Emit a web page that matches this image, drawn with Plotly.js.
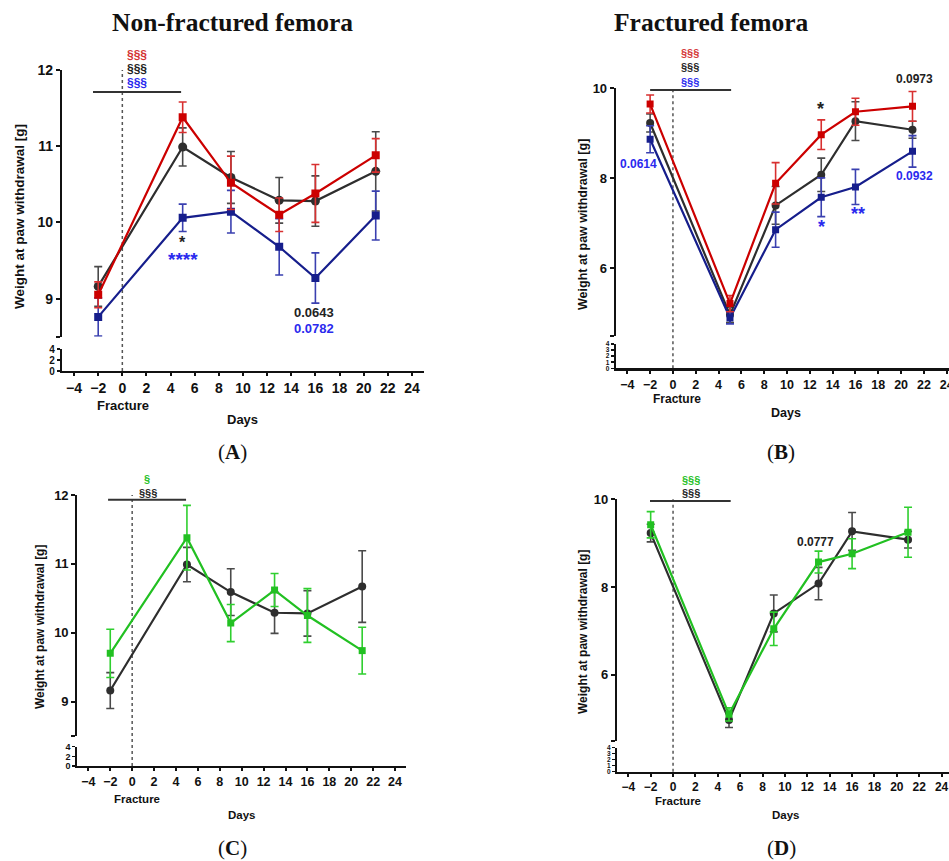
<!DOCTYPE html>
<html>
<head>
<meta charset="utf-8">
<script src="https://cdn.plot.ly/plotly-3.0.1.min.js"></script>
<style>html,body{margin:0;padding:0;background:#fff;}#chart{width:949px;height:861px;}</style>
</head>
<body>
<div id="chart"></div>
<script>
// ---------- DATA ----------
const days = [-2, 5, 9, 13, 16, 21];
const xTickVals = [-4, -2, 0, 2, 4, 6, 8, 10, 12, 14, 16, 18, 20, 22, 24];

// Non-fractured femora
const nfBlack    = [9.16, 10.99, 10.59, 10.29, 10.28, 10.67];
const nfBlackErr = [0.26, 0.25, 0.34, 0.30, 0.33, 0.52];
const nfRed      = [9.05, 11.38, 10.52, 10.10, 10.38, 10.88];
const nfRedErr   = [0.17, 0.20, 0.35, 0.22, 0.38, 0.22];
const nfBlue     = [8.76, 10.06, 10.14, 9.68, 9.27, 10.09];
const nfBlueErr  = [0.25, 0.18, 0.28, 0.37, 0.33, 0.32];
const nfGreen    = [9.70, 11.38, 10.14, 10.62, 10.25, 9.74];
const nfGreenErr = [0.35, 0.47, 0.27, 0.24, 0.39, 0.34];

// Fractured femora
const frBlack    = [9.23, 4.97, 7.40, 8.08, 9.27, 9.08];
const frBlackErr = [0.20, 0.17, 0.42, 0.37, 0.43, 0.19];
const frRed      = [9.65, 5.22, 7.89, 8.97, 9.48, 9.60];
const frRedErr   = [0.20, 0.18, 0.46, 0.33, 0.30, 0.33];
const frBlue     = [8.87, 4.90, 6.86, 7.58, 7.81, 8.60];
const frBlueErr  = [0.30, 0.13, 0.39, 0.43, 0.39, 0.35];
const frGreen    = [9.42, 5.10, 7.05, 8.57, 8.76, 9.25];
const frGreenErr = [0.30, 0.15, 0.38, 0.25, 0.34, 0.57];

// ---------- STYLE ----------
const W = 949, H = 861;
const PX = v => v / W;
const PY = v => 1 - v / H;
const C = {
  black: '#2e2e2e', blackErr: '#4a4a4a',
  red: '#cc0000', redErr: '#d83030',
  blue: '#161e8c', blueErr: '#3a40b0',
  green: '#22c022', greenErr: '#2fcf2f',
  txtRed: '#d43535', txtBlue: '#2a2aee', txtBlack: '#222222', txtGreen: '#25c025'
};
const SANS = 'Liberation Sans, Arial, sans-serif';
const SERIF = 'Liberation Serif, Times New Roman, serif';

// panel geometry in pixels
const panels = [
  {id: 'A', xl: 62,    xr: 424, xRange: [-5, 25],    axisY: 371,   low4: 349,   upTop: 70,   upBot: 336.7, upRange: [8.5, 12], upTicks: [8.5, 9, 10, 11, 12], lowTicks: [0, 2, 4], tickSize: 14, xTickSize: 14, lowSize: 10},
  {id: 'B', xl: 615.9, xr: 949, xRange: [-5, 24.2],  axisY: 368.3, low4: 344,   upTop: 88.3, upBot: 336,   upRange: [4.5, 10], upTicks: [4.5, 6, 8, 10],       lowTicks: [0, 1, 2, 3, 4], tickSize: 13, xTickSize: 12.5, lowSize: 6.5},
  {id: 'C', xl: 77.4,  xr: 406, xRange: [-5, 25],    axisY: 766,   low4: 746.7, upTop: 495,  upBot: 736,   upRange: [8.5, 12], upTicks: [8.5, 9, 10, 11, 12], lowTicks: [0, 2, 4], tickSize: 13, xTickSize: 12.5, lowSize: 9},
  {id: 'D', xl: 617.1, xr: 949, xRange: [-5, 24.66], axisY: 771.7, low4: 747.7, upTop: 499.3, upBot: 740.7, upRange: [4.5, 10], upTicks: [4.5, 6, 8, 10],     lowTicks: [0, 1, 2, 3, 4], tickSize: 13, xTickSize: 12, lowSize: 6.5}
];

const layout = {
  width: W, height: H,
  margin: {l: 0, r: 0, t: 0, b: 0},
  paper_bgcolor: '#fff', plot_bgcolor: 'rgba(0,0,0,0)',
  showlegend: false,
  shapes: [], annotations: []
};
const traces = [];

panels.forEach((p, i) => {
  const xn = i === 0 ? 'xaxis' : 'xaxis' + (i + 1);
  const xid = i === 0 ? 'x' : 'x' + (i + 1);
  const upN = 2 * i + 1, lowN = 2 * i + 2;
  const upName = upN === 1 ? 'yaxis' : 'yaxis' + upN;
  const upId = upN === 1 ? 'y' : 'y' + upN;
  const lowName = 'yaxis' + lowN, lowId = 'y' + lowN;
  p.xid = xid; p.upId = upId; p.lowId = lowId;
  const tf = {family: SANS, size: p.tickSize, color: '#111', weight: 'bold'};
  layout[xn] = {
    domain: [PX(p.xl), PX(p.xr)], range: p.xRange, anchor: lowId,
    tickmode: 'array', tickvals: xTickVals, ticks: 'outside', ticklen: 3, tickwidth: 2, tickcolor: '#111',
    showline: true, linewidth: 2.2, linecolor: '#111', showgrid: false, zeroline: false,
    tickfont: {family: SANS, size: p.xTickSize, color: '#111', weight: 'bold'},
    ticklabeloverflow: 'allow', fixedrange: true
  };
  layout[upName] = {
    domain: [PY(p.upBot), PY(p.upTop)], range: p.upRange, anchor: xid,
    tickmode: 'array', tickvals: p.upTicks, ticktext: p.upTicks.map(v => Number.isInteger(v) ? String(v) : ''),
    ticks: 'outside', ticklen: 4, tickwidth: 2, tickcolor: '#111',
    showline: true, linewidth: 2.2, linecolor: '#111', showgrid: false, zeroline: false,
    tickfont: tf, fixedrange: true
  };
  layout[lowName] = {
    domain: [PY(p.axisY), PY(p.low4)], range: [0, 4], anchor: xid,
    tickmode: 'array', tickvals: p.lowTicks, ticks: 'outside', ticklen: 3, tickwidth: 1.5, tickcolor: '#111',
    showline: true, linewidth: 2.2, linecolor: '#111', showgrid: false, zeroline: false,
    tickfont: {family: SANS, size: p.lowSize, color: '#111', weight: 'bold'}, fixedrange: true
  };
  // empty trace so that the lower (broken-axis) subplot exists
  traces.push({x: [null], y: [null], type: 'scatter', mode: 'markers', xaxis: xid, yaxis: lowId,
    hoverinfo: 'skip', showlegend: false});
  // fracture reference line at day 0 spanning both axis segments
  layout.shapes.push({type: 'line', xref: xid, yref: 'paper', x0: 0, x1: 0, y0: PY(p.axisY), y1: PY(p.upTop),
    line: {color: '#555', width: 1.5, dash: 'dot'}, layer: 'below'});
});

// ---------- TRACES ----------
function series(p, y, err, color, errColor, symbol, size) {
  return {
    x: days, y: y, type: 'scatter', mode: 'lines+markers',
    xaxis: p.xid, yaxis: p.upId,
    line: {color: color, width: 2.2},
    marker: {color: color, symbol: symbol, size: size, line: {width: 0}},
    error_y: {type: 'data', array: err, visible: true, color: errColor, thickness: 1.6, width: 4},
    cliponaxis: true, hoverinfo: 'skip'
  };
}
const [pA, pB, pC, pD] = panels;
traces.push(
  series(pA, nfBlack, nfBlackErr, C.black, C.blackErr, 'circle', 9),
  series(pA, nfBlue, nfBlueErr, C.blue, C.blueErr, 'square', 8),
  series(pA, nfRed, nfRedErr, C.red, C.redErr, 'square', 8),
  series(pB, frBlack, frBlackErr, C.black, C.blackErr, 'circle', 8),
  series(pB, frBlue, frBlueErr, C.blue, C.blueErr, 'square', 7),
  series(pB, frRed, frRedErr, C.red, C.redErr, 'square', 7),
  series(pC, nfBlack, nfBlackErr, C.black, C.blackErr, 'circle', 8),
  series(pC, nfGreen, nfGreenErr, C.green, C.greenErr, 'square', 7),
  series(pD, frBlack, frBlackErr, C.black, C.blackErr, 'circle', 8),
  series(pD, frGreen, frGreenErr, C.green, C.greenErr, 'square', 7)
);

// ---------- ANNOTATIONS ----------
function txt(p, x, y, text, color, size) {
  layout.annotations.push({xref: p.xid, yref: p.upId, x: x, y: y, text: text, showarrow: false,
    font: {family: SANS, size: size, color: color, weight: 'bold'}, xanchor: 'center', yanchor: 'middle'});
}
function bar(p, x0, x1, y) {
  layout.shapes.push({type: 'line', xref: p.xid, yref: p.upId, x0: x0, x1: x1, y0: y, y1: y,
    line: {color: '#333', width: 2}});
}
function ptxt(x, y, text, size, family, color, angle) {
  layout.annotations.push({xref: 'paper', yref: 'paper', x: PX(x), y: PY(y), text: text, showarrow: false,
    textangle: angle || 0, font: {family: family, size: size, color: color || '#111', weight: 'bold'},
    xanchor: 'center', yanchor: 'middle'});
}

// Panel A
bar(pA, -2.43, 4.87, 11.71);
ptxt(137, 55, '§§§', 12, SANS, C.txtRed);
ptxt(137, 69, '§§§', 12, SANS, C.txtBlack);
ptxt(137, 83, '§§§', 12, SANS, C.txtBlue);
txt(pA, 5, 9.74, '*', C.txtBlack, 16);
txt(pA, 5, 9.51, '****', C.txtBlue, 19);
txt(pA, 15.9, 8.815, '0.0643', C.txtBlack, 13);
txt(pA, 15.9, 8.605, '0.0782', C.txtBlue, 13);

// Panel B
bar(pB, -2.0, 5.1, 9.96);
ptxt(690, 53, '§§§', 11, SANS, C.txtRed);
ptxt(690, 67, '§§§', 11, SANS, C.txtBlack);
ptxt(690, 82, '§§§', 11, SANS, C.txtBlue);
ptxt(914, 79, '0.0973', 12, SANS, C.txtBlack);
txt(pB, 12.9, 9.55, '*', C.txtBlack, 18);
txt(pB, -3.0, 8.32, '0.0614', C.txtBlue, 12);
txt(pB, 13.0, 6.92, '*', C.txtBlue, 18);
txt(pB, 16.2, 7.20, '**', C.txtBlue, 18);
txt(pB, 21.2, 8.06, '0.0932', C.txtBlue, 12);

// Panel C
bar(pC, -2.2, 4.92, 11.93);
ptxt(147, 479, '§', 11, SANS, C.txtGreen);
ptxt(148, 493, '§§§', 11, SANS, C.txtBlack);

// Panel D
bar(pD, -2.06, 5.15, 9.96);
ptxt(691, 480, '§§§', 11, SANS, C.txtGreen);
ptxt(691, 493, '§§§', 11, SANS, C.txtBlack);
txt(pD, 12.7, 9.03, '0.0777', C.txtBlack, 12);

// axis titles and labels (pixel positions)
const yTitle = 'Weight at paw withdrawal [g]';
ptxt(20, 217, yTitle, 13.5, SANS, '#111', -90);
ptxt(583, 225, yTitle, 12.5, SANS, '#111', -90);
ptxt(40, 627, yTitle, 12, SANS, '#111', -90);
ptxt(583, 632, yTitle, 12, SANS, '#111', -90);
ptxt(123, 405, 'Fracture', 13, SANS);
ptxt(677, 399, 'Fracture', 12, SANS);
ptxt(137, 799, 'Fracture', 11.5, SANS);
ptxt(678, 801, 'Fracture', 11.5, SANS);
ptxt(243, 419, 'Days', 13, SANS);
ptxt(786, 413, 'Days', 12.5, SANS);
ptxt(242, 815, 'Days', 11.5, SANS);
ptxt(786, 815, 'Days', 11.5, SANS);

// titles and panel labels
ptxt(232, 22, 'Non-fractured femora', 25.5, SERIF, '#111');
ptxt(711, 22, 'Fractured femora', 25.5, SERIF, '#111');
[['A', 232, 452], ['B', 781, 452], ['C', 232, 848], ['D', 781, 848]].forEach(([l, x, y]) => {
  layout.annotations.push({xref: 'paper', yref: 'paper', x: PX(x), y: PY(y), text: '(<b>' + l + '</b>)',
    showarrow: false, font: {family: SERIF, size: 21, color: '#111'}, xanchor: 'center', yanchor: 'middle'});
});

Plotly.newPlot('chart', traces, layout, {staticPlot: true, displayModeBar: false});
</script>
</body>
</html>
